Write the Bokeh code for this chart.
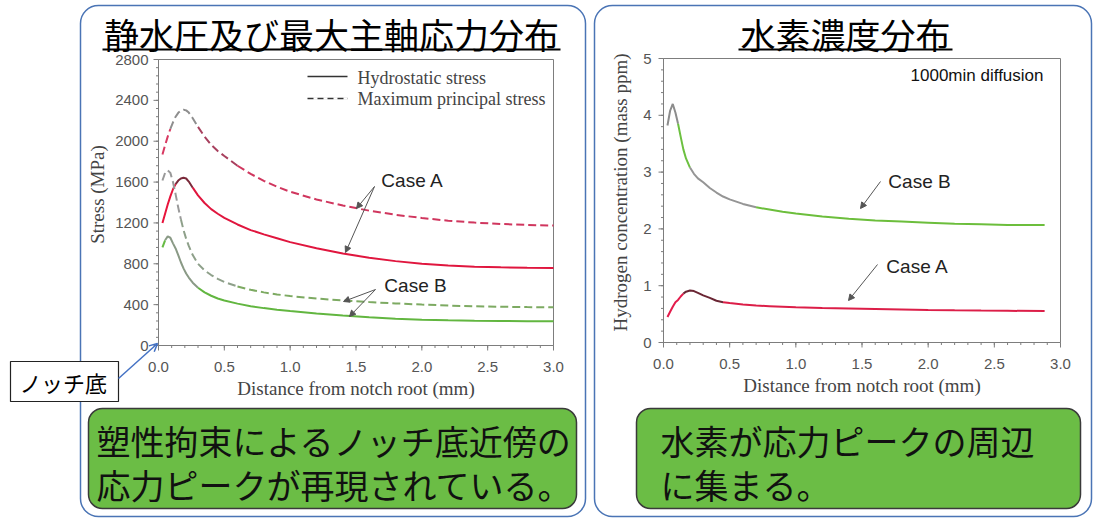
import numpy as np
from bokeh.plotting import figure
from bokeh.models import Range1d, Arrow, NormalHead, OpenHead
from bokeh.core.properties import value
from bokeh.embed import file_html
from bokeh.resources import INLINE

# ---------------------------------------------------------------- data
# Stress distribution ahead of the notch root (MPa)
stress_x_mm = [0.03, 0.05, 0.07, 0.09, 0.11, 0.13, 0.15, 0.17, 0.19, 0.21, 0.23,
               0.26, 0.30, 0.35, 0.40, 0.45, 0.50, 0.60, 0.70, 0.80, 0.90, 1.00,
               1.20, 1.40, 1.60, 1.80, 2.00, 2.20, 2.40, 2.60, 2.80, 3.00]
hydro_case_a = [1200, 1290, 1380, 1460, 1530, 1580, 1615, 1635, 1642, 1635, 1605,
                1545, 1470, 1395, 1335, 1290, 1250, 1185, 1130, 1088, 1050, 1012,
                952, 900, 860, 826, 800, 783, 772, 765, 760, 758]
maxp_case_a = [1870, 1960, 2045, 2120, 2185, 2240, 2278, 2300, 2308, 2302, 2280,
               2225, 2140, 2045, 1965, 1905, 1855, 1760, 1680, 1612, 1555, 1505,
               1430, 1370, 1320, 1280, 1248, 1222, 1203, 1190, 1180, 1175]
maxp_case_b = [1615, 1690, 1715, 1690, 1600, 1480, 1350, 1235, 1130, 1045, 975,
               885, 800, 735, 690, 652, 622, 578, 545, 520, 500, 484,
               460, 441, 425, 412, 401, 391, 384, 379, 376, 374]
hydro_case_b = [960, 1030, 1068, 1055, 1000, 950, 885, 815, 755, 705, 665,
                615, 565, 520, 487, 460, 440, 410, 385, 366, 350, 337,
                314, 294, 276, 262, 252, 246, 242, 240, 238, 237]

# Hydrogen concentration after 1000 min of diffusion (mass ppm)
h_x_mm = [0.03, 0.05, 0.07, 0.09, 0.11, 0.13, 0.15, 0.17, 0.20, 0.23, 0.26,
          0.30, 0.35, 0.40, 0.45, 0.50, 0.60, 0.70, 0.80, 0.90, 1.00, 1.20,
          1.40, 1.60, 1.80, 2.00, 2.20, 2.40, 2.60, 2.88]
h_case_b = [3.82, 4.08, 4.20, 4.05, 3.85, 3.62, 3.40, 3.24, 3.08, 2.97, 2.89,
            2.82, 2.72, 2.64, 2.57, 2.52, 2.44, 2.38, 2.34, 2.30, 2.27, 2.22,
            2.18, 2.15, 2.13, 2.11, 2.09, 2.08, 2.07, 2.07]
h_case_a = [0.45, 0.54, 0.63, 0.71, 0.75, 0.81, 0.86, 0.895, 0.915, 0.905, 0.875,
            0.83, 0.785, 0.735, 0.71, 0.695, 0.67, 0.65, 0.64, 0.63, 0.62, 0.607,
            0.597, 0.588, 0.58, 0.573, 0.567, 0.562, 0.558, 0.553]

# axis ticks
dist_ticks = [0.0, 0.5, 1.0, 1.5, 2.0, 2.5, 3.0]
dist_labels = ["0.0", "0.5", "1.0", "1.5", "2.0", "2.5", "3.0"]
stress_ticks = [0, 400, 800, 1200, 1600, 2000, 2400, 2800]
stress_labels = ["0", "400", "800", "1200", "1600", "2000", "2400", "2800"]
conc_ticks = [0, 1, 2, 3, 4, 5]
conc_labels = ["0", "1", "2", "3", "4", "5"]

# ---------------------------------------------------------------- page
W, H = 1093, 518


def Y(py):
    """Page coordinate measured from the top edge."""
    return H - py


CJK = value("Noto Sans CJK JP")
SANS = value("Liberation Sans")
SERIF = value("Liberation Serif")

p = figure(width=W, height=H, x_range=Range1d(0, W), y_range=Range1d(0, H),
           x_axis_type=None, y_axis_type=None, toolbar_location=None,
           output_backend="svg", min_border=0, outline_line_color=None)
p.background_fill_color = "white"
p.border_fill_color = "white"

# rounded slide panels
p.quad(left=[80, 594], right=[585, 1091], top=[Y(5), Y(5)], bottom=[Y(516), Y(516)],
       border_radius=18, fill_color=None, line_color="#4A74B5", line_width=1.5)

# underlined headings
p.text(x=[331, 845], y=[Y(33), Y(33)], text=["静水圧及び最大主軸応力分布", "水素濃度分布"],
       text_font=CJK, text_font_size=value("35px"), text_align="center",
       text_baseline="middle", text_color="black")
p.segment(x0=[102, 738], x1=[560, 952], y0=[Y(49), Y(49)], y1=[Y(49), Y(49)],
          line_color="black", line_width=2)


def make_axes(fr, xr, yr):
    """Sub-coordinate systems for one chart: data, x-axis strip and y-axis strip."""
    data = p.subplot(x_source=Range1d(*xr), y_source=Range1d(*yr),
                     x_target=Range1d(fr["left"], fr["right"]),
                     y_target=Range1d(Y(fr["bottom"]), Y(fr["top"])))
    xa = p.subplot(x_source=Range1d(*xr), y_source=Range1d(0, H),
                   x_target=Range1d(fr["left"], fr["right"]), y_target=Range1d(0, H))
    ya = p.subplot(x_source=Range1d(0, W), y_source=Range1d(*yr),
                   x_target=Range1d(0, W),
                   y_target=Range1d(Y(fr["bottom"]), Y(fr["top"])))
    return data, xa, ya


def draw_axes(fr, xr, yr, xt, xl, yt, yl, y_minor, x_title, y_title, y_title_x, label_right):
    data, xa, ya = make_axes(fr, xr, yr)
    axis_col = "#7d7d7d"
    data.quad(left=xr[0], right=xr[1], bottom=yr[0], top=yr[1],
              fill_color=None, line_color=axis_col, line_width=1)
    # x ticks
    xa.segment(x0=xt, x1=xt, y0=Y(fr["bottom"]), y1=Y(fr["bottom"] + 5),
               line_color=axis_col, line_width=1)
    xm = [v for v in np.arange(xr[0], xr[1] + 1e-9, 0.1)]
    xa.segment(x0=xm, x1=xm, y0=Y(fr["bottom"]), y1=Y(fr["bottom"] + 2.5),
               line_color=axis_col, line_width=1)
    xa.text(x=xt, y=Y(fr["bottom"] + 21), text=xl, text_font=SANS,
            text_font_size=value("15px"), text_align="center",
            text_baseline="middle", text_color="#555555")
    # y ticks
    ya.segment(x0=fr["left"] - 5, x1=fr["left"], y0=yt, y1=yt,
               line_color=axis_col, line_width=1)
    ym = [v for v in np.arange(yr[0], yr[1] + 1e-9, y_minor)]
    ya.segment(x0=fr["left"] - 2.5, x1=fr["left"], y0=ym, y1=ym,
               line_color=axis_col, line_width=1)
    ya.text(x=label_right, y=yt, text=yl, text_font=SANS,
            text_font_size=value("15px"), text_align="right",
            text_baseline="middle", text_color="#555555")
    # axis titles
    p.text(x=[(fr["left"] + fr["right"]) / 2], y=[Y(fr["bottom"] + 43)], text=[x_title],
           text_font=SERIF, text_font_size=value("19px"), text_align="center",
           text_baseline="middle", text_color="#444444")
    p.text(x=[y_title_x], y=[Y((fr["top"] + fr["bottom"]) / 2 - 8)], text=[y_title],
           angle=np.pi / 2, text_font=SERIF, text_font_size=value("19px"),
           text_align="center", text_baseline="middle", text_color="#444444")
    return data


def draw_curve(g, x, y, pieces, dash="solid", width=2.0):
    x = np.asarray(x, dtype=float)
    y = np.asarray(y, dtype=float)
    for x0, x1, color in pieces:
        m = (x >= x0 - 1e-9) & (x <= x1 + 1e-9)
        g.line(x[m], y[m], line_color=color, line_width=width, line_dash=dash)


# ------------------------------------------------ stress chart
L = dict(left=158, right=553, top=59, bottom=345)
ds = draw_axes(L, (0, 3), (0, 2800), dist_ticks, dist_labels, stress_ticks, stress_labels,
               80, "Distance from notch root (mm)", "Stress (MPa)", 97, 148)

DASH = "8 4"
draw_curve(ds, stress_x_mm, maxp_case_a,
           [(0, 0.09, "#D83A62"), (0.09, 0.30, "#8E8E8E"), (0.30, 0.60, "#A8405E"),
            (0.60, 3.0, "#D0365E")], DASH)
draw_curve(ds, stress_x_mm, hydro_case_a,
           [(0, 0.13, "#E8143C"), (0.13, 0.26, "#7A2A3A"), (0.26, 3.0, "#E0163E")])
draw_curve(ds, stress_x_mm, maxp_case_b,
           [(0, 0.17, "#999999"), (0.17, 0.60, "#8EA08A"), (0.60, 3.0, "#7DAA62")], DASH)
draw_curve(ds, stress_x_mm, hydro_case_b,
           [(0, 0.05, "#66BB44"), (0.05, 0.30, "#8A9A86"), (0.30, 3.0, "#62B640")])

# legend
p.segment(x0=[307, 307], x1=[347, 347], y0=[Y(76), Y(98)], y1=[Y(76), Y(98)],
          line_color="#333333", line_width=1.5, line_dash="solid")
p.segment(x0=[307], x1=[347], y0=[Y(98)], y1=[Y(98)], line_color="white", line_width=2.5,
          line_dash="4 6", line_dash_offset=4)
p.text(x=[357, 357], y=[Y(77), Y(98)], text=["Hydrostatic stress", "Maximum principal stress"],
       text_font=SERIF, text_font_size=value("18px"), text_align="left",
       text_baseline="middle", text_color="#444444")

# case call-outs
p.text(x=[412, 415, 919, 917], y=[Y(180), Y(285), Y(181), Y(266)],
       text=["Case A", "Case B", "Case B", "Case A"], text_font=SANS,
       text_font_size=value("19px"), text_align="center", text_baseline="middle",
       text_color="#222222")
for xs, ys, xe, ye in [(374, 186, 356, 208), (374, 186, 345, 252),
                       (375, 289, 343, 301), (375, 289, 349, 316),
                       (880, 181, 860, 208), (877, 264, 848, 300)]:
    p.add_layout(Arrow(x_start=xs, y_start=Y(ys), x_end=xe, y_end=Y(ye),
                       line_color="#555555", line_width=1,
                       end=NormalHead(size=6, fill_color="#555555", line_color="#555555")))

# ------------------------------------------------ hydrogen chart
R = dict(left=663, right=1060, top=58, bottom=342)
dh = draw_axes(R, (0, 3), (0, 5), dist_ticks, dist_labels, conc_ticks, conc_labels,
               0.2, "Distance from notch root (mm)", "Hydrogen concentration (mass ppm)",
               620, 651)
draw_curve(dh, h_x_mm, h_case_b,
           [(0, 0.11, "#8C8C8C"), (0.11, 0.20, "#6CC040"), (0.20, 0.70, "#959595"),
            (0.70, 2.88, "#6CBE3C")])
draw_curve(dh, h_x_mm, h_case_a,
           [(0, 0.15, "#E31B4B"), (0.15, 0.45, "#6A2634"), (0.45, 2.88, "#DC1E48")])
p.text(x=[1043], y=[Y(75)], text=["1000min diffusion"], text_font=SANS,
       text_font_size=value("17px"), text_align="right", text_baseline="middle",
       text_color="#111111")

# ------------------------------------------------ notch-root call-out
p.quad(left=[10], right=[118], top=[Y(361)], bottom=[Y(401)], fill_color="white",
       line_color="#222222", line_width=1.2)
p.text(x=[63], y=[Y(381)], text=["ノッチ底"], text_font=CJK, text_font_size=value("22px"),
       text_align="center", text_baseline="middle", text_color="black")
p.add_layout(Arrow(x_start=118, y_start=Y(378), x_end=157, y_end=Y(343),
                   line_color="#4472C4", line_width=1.5,
                   end=OpenHead(size=8, line_color="#4472C4", line_width=1.5)))

# ------------------------------------------------ conclusion boxes
p.quad(left=[88, 636], right=[576, 1080], top=[Y(408), Y(408)], bottom=[Y(508), Y(508)],
       border_radius=14, fill_color="#6BBD45", line_color="#3A3A3A", line_width=1.5)
p.text(x=[96, 96, 660, 660], y=[Y(440), Y(484), Y(440), Y(484)],
       text=["塑性拘束によるノッチ底近傍の", "応力ピークが再現されている。",
             "水素が応力ピークの周辺", "に集まる。"],
       text_font=CJK, text_font_size=value("34px"), text_align="left",
       text_baseline="middle", text_color="#111111")

open("out.html", "w").write(file_html(p, INLINE))
